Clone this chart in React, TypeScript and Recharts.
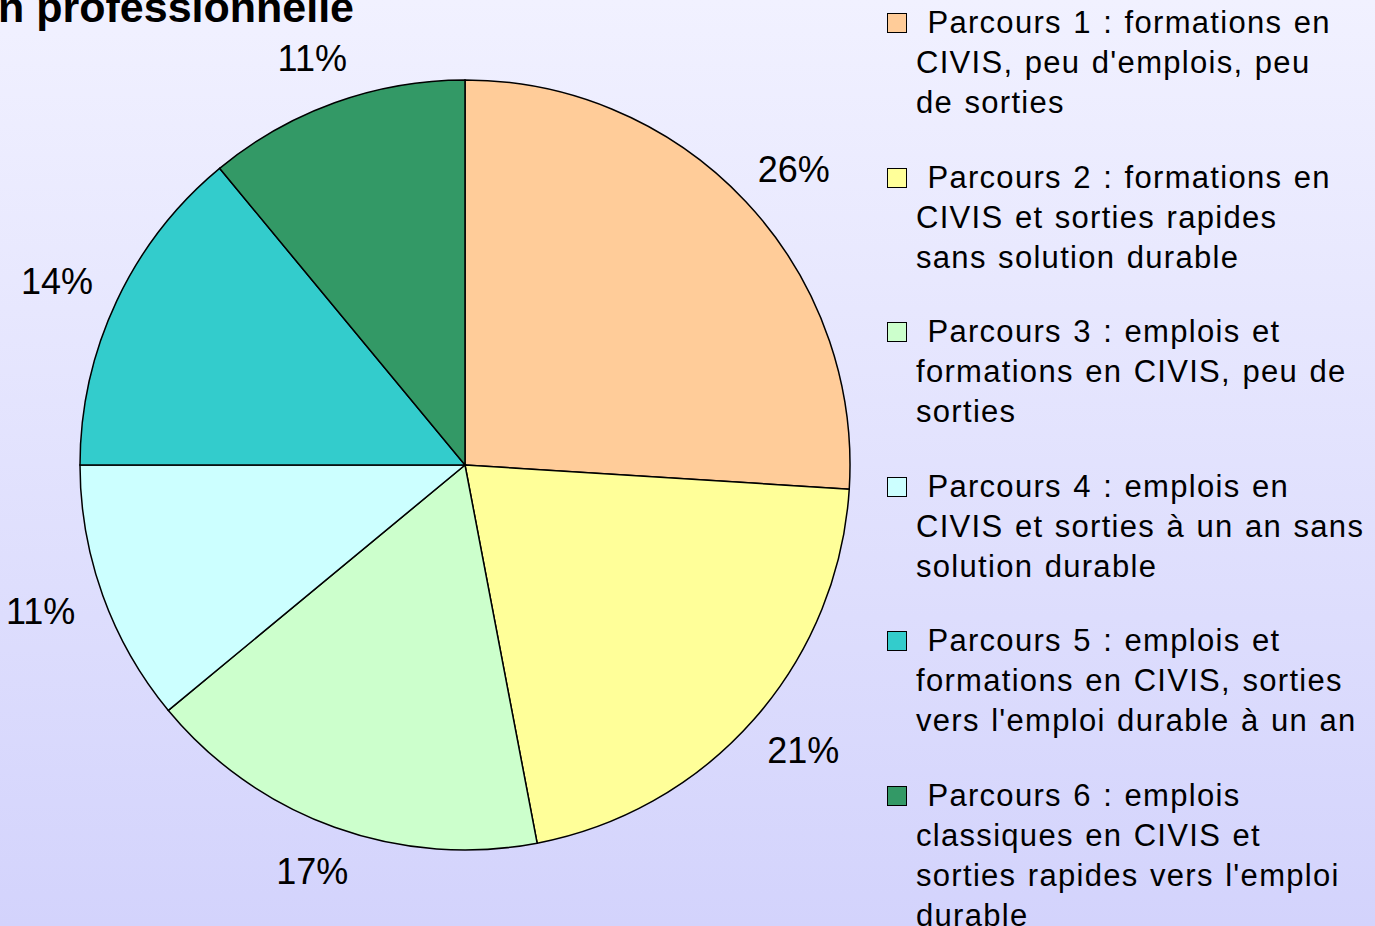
import { PieChart, Pie, Cell, Legend } from 'recharts'

// Share of each "parcours" (percent), clockwise from 12 o'clock
const parcours = ['Parcours 1', 'Parcours 2', 'Parcours 3', 'Parcours 4', 'Parcours 5', 'Parcours 6']
const shares = [26, 21, 17, 11, 14, 11]

// Legend text, already wrapped the way the original shows it
const legendLines = [
  ['Parcours 1 : formations en', 'CIVIS, peu d\'emplois, peu', 'de sorties'],
  ['Parcours 2 : formations en', 'CIVIS et sorties rapides', 'sans solution durable'],
  ['Parcours 3 : emplois et', 'formations en CIVIS, peu de', 'sorties'],
  ['Parcours 4 : emplois en', 'CIVIS et sorties à un an sans', 'solution durable'],
  ['Parcours 5 : emplois et', 'formations en CIVIS, sorties', 'vers l\'emploi durable à un an'],
  ['Parcours 6 : emplois', 'classiques en CIVIS et', 'sorties rapides vers l\'emploi', 'durable'],
]

const COLORS = ['#FFCC99', '#FFFF99', '#CCFFCC', '#CCFFFF', '#33CCCC', '#339966']
const FONT = '"Liberation Sans", Arial, sans-serif'
const RAD = Math.PI / 180

const data = parcours.map((name, i) => ({ name, value: shares[i] }))

// Label box sits just outside the rim, pushed outward by half its size
// (the way office suites place outside pie labels)
const renderLabel = ({ cx, cy, midAngle, outerRadius, value }: any) => {
  const dx = Math.cos(-midAngle * RAD)
  const dy = Math.sin(-midAngle * RAD)
  const r = outerRadius + 30
  const x = cx + r * dx + dx * 36
  const y = cy + r * dy + dy * 17
  return (
    <text x={x} y={y} textAnchor="middle" dominantBaseline="central" fontSize={36} fontFamily={FONT} fill="#000">
      {`${value}%`}
    </text>
  )
}

const CustomLegend = ({ payload }: any) => (
  <div
    style={{
      fontFamily: FONT,
      fontSize: 31,
      lineHeight: '40px',
      letterSpacing: 1.3,
      wordSpacing: 1.5,
      color: '#000',
    }}
  >
    {(payload || []).map((entry: any, i: number) => (
      <div key={i} style={{ position: 'relative', marginBottom: i < 5 ? 34.5 : 0, paddingLeft: 29 }}>
        <div
          style={{
            position: 'absolute',
            left: 0,
            top: 10,
            width: 18,
            height: 18,
            border: '1px solid #000',
            background: entry.color,
          }}
        />
        {legendLines[i].map((line, j) => (
          <div key={j} style={{ whiteSpace: 'nowrap' }}>
            {j === 0 ? '\u00a0' + line : line}
          </div>
        ))}
      </div>
    ))}
  </div>
)

export default function App() {
  return (
    <div
      style={{
        position: 'absolute',
        left: 0,
        top: 0,
        width: 1375,
        height: 926,
        overflow: 'hidden',
        background: 'linear-gradient(to bottom, #F1F1FF 0%, #D3D3FC 100%)',
      }}
    >
      <svg width={1375} height={60} style={{ position: 'absolute', left: 0, top: 0 }}>
        <text x={-2} y={22} fontSize={43} fontWeight="bold" fontFamily={FONT} fill="#000">
          n professionnelle
        </text>
      </svg>
      <PieChart
        width={1375}
        height={926}
        margin={{ top: 0, right: 0, bottom: 0, left: 0 }}
        style={{ position: 'absolute', left: 0, top: 0 }}
      >
        <Pie
          data={data}
          dataKey="value"
          nameKey="name"
          cx={465}
          cy={465}
          outerRadius={385}
          startAngle={90}
          endAngle={-270}
          stroke="#000"
          strokeWidth={1.5}
          label={renderLabel}
          labelLine={false}
          isAnimationActive={false}
        >
          {data.map((_, i) => (
            <Cell key={i} fill={COLORS[i]} />
          ))}
        </Pie>
        <Legend
          content={<CustomLegend />}
          layout="vertical"
          wrapperStyle={{ position: 'absolute', left: 887, top: 3, width: 488 }}
        />
      </PieChart>
    </div>
  )
}
